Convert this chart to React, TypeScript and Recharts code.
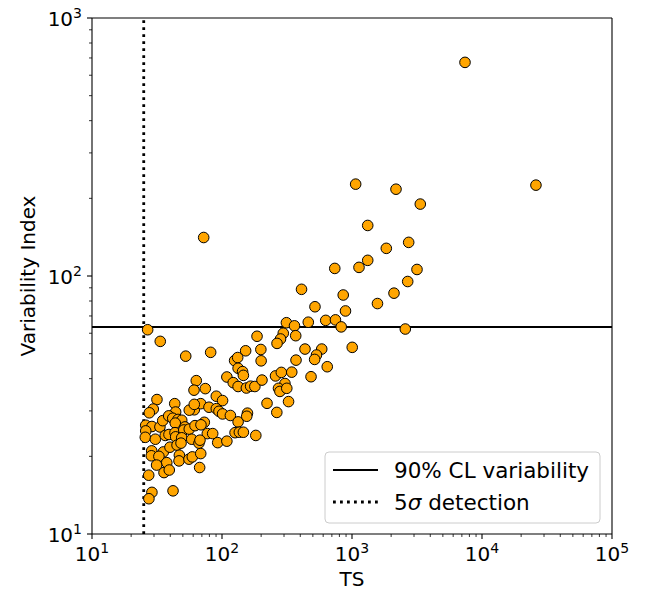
import { ScatterChart, Scatter, XAxis, YAxis, ReferenceLine } from "recharts";

// TS of each source
const ts = [
  26.8, 33.5, 52.6, 31.6, 29.6, 27.6, 43.3, 44.0, 61.2, 25.9,
  28.9, 33.3, 25.9, 35.0, 38.9, 41.8, 45.9, 49.0, 43.7, 51.9,
  25.7, 30.7, 36.6, 39.1, 43.5, 44.0, 50.8, 56.0, 62.0, 49.0,
  58.5, 66.5, 28.8, 35.4, 39.8, 45.1, 48.4, 28.6, 32.7, 37.6,
  47.0, 46.7, 55.7, 59.1, 31.4, 35.8, 39.3, 27.3, 28.9, 27.4,
  42.0, 63.4, 60.9, 68.6, 79.4, 56.0, 61.2, 73.1, 77.1, 84.8,
  67.7, 68.9, 67.3, 68.6, 72.3, 81.8, 74.4, 90.4, 101, 90.4,
  94.8, 101, 116, 133, 157, 155, 126, 136, 146, 182,
  92.7, 109, 152, 186, 199, 296, 313, 282, 265, 125,
  132, 133, 144, 146, 200, 109, 122, 133, 154, 166,
  179, 203, 258, 286, 305, 272, 279, 315, 222, 325,
  264, 344, 361, 461, 369, 435, 585, 533, 516, 371,
  484, 645, 409, 519, 891, 628, 746, 826, 1004, 737,
  1132, 856, 1570, 2104, 2682, 3162, 2570, 1321, 1836, 2729,
  1321, 1067, 2180, 3352, 7400, 26000,
];

// variability index of each source (same order)
const variability = [
  61.9, 55.8, 48.9, 33.2, 30.5, 29.5, 32.0, 29.7, 30.3, 26.4,
  26.1, 26.0, 25.1, 27.5, 28.7, 28.1, 27.8, 27.6, 26.9, 26.0,
  23.7, 23.3, 24.1, 24.3, 24.7, 23.8, 25.3, 25.5, 26.3, 23.6,
  23.3, 22.5, 21.0, 20.8, 21.7, 22.1, 22.5, 20.1, 20.0, 18.9,
  20.2, 19.2, 19.5, 19.9, 18.5, 17.3, 17.7, 16.9, 14.5, 13.7,
  14.7, 39.3, 36.1, 32.0, 31.0, 30.2, 31.8, 27.1, 24.5, 24.5,
  23.1, 26.5, 18.1, 20.5, 141, 50.6, 36.6, 34.2, 32.9, 30.6,
  29.9, 29.2, 28.8, 27.2, 29.4, 28.6, 24.7, 24.8, 24.8, 24.1,
  22.6, 22.9, 51.3, 58.4, 51.9, 60.0, 65.9, 57.0, 54.8, 47.0,
  48.3, 43.9, 42.6, 41.2, 46.9, 40.6, 38.6, 37.3, 36.8, 37.4,
  37.3, 39.5, 41.0, 42.3, 38.3, 36.7, 35.7, 36.7, 32.1, 32.6,
  29.6, 42.4, 64.1, 66.2, 58.7, 52.1, 52.1, 49.4, 47.5, 47.2,
  40.7, 44.5, 88.8, 76.0, 73.2, 67.3, 67.6, 63.5, 52.9, 107,
  108, 84.4, 78.2, 85.8, 95.2, 106, 62.3, 115, 128, 135,
  157, 227, 217, 190, 673, 225,
];

const variabilityThreshold = 63.4; // 90% CL
const detectionTS = 25; // 5 sigma

const xMajor = [10, 100, 1000, 10000, 100000];
const yMajor = [10, 100, 1000];

const minorOf = (majors: number[]) => {
  const out: number[] = [];
  majors.slice(0, -1).forEach((m) => {
    for (let k = 2; k <= 9; k++) out.push(m * k);
  });
  return out;
};

const xTicks = [...xMajor, ...minorOf(xMajor)].sort((a, b) => a - b);
const yTicks = [...yMajor, ...minorOf(yMajor)].sort((a, b) => a - b);

const data = ts.map((t, i) => ({ ts: t, vi: variability[i] }));

const FONT = "DejaVu Sans";
const DOTTED = "2.8 4.2";

const XTick = (props: any) => {
  const { x, y, payload } = props;
  const major = xMajor.includes(payload.value);
  return (
    <g>
      <line x1={x} x2={x} y1={y} y2={y + (major ? 5 : 3)} stroke="#000" strokeWidth={major ? 1.1 : 0.8} />
      {major && (
        <text x={x} y={y + 27} textAnchor="middle" fontSize={20} fontFamily={FONT} fill="#000">
          10<tspan dy={-8} fontSize={14}>{Math.round(Math.log10(payload.value))}</tspan>
        </text>
      )}
    </g>
  );
};

const YTick = (props: any) => {
  const { x, y, payload } = props;
  const major = yMajor.includes(payload.value);
  return (
    <g>
      <line x1={x} x2={x - (major ? 5 : 3)} y1={y} y2={y} stroke="#000" strokeWidth={major ? 1.1 : 0.8} />
      {major && (
        <text x={x - 10} y={y + 8} textAnchor="end" fontSize={20} fontFamily={FONT} fill="#000">
          10<tspan dy={-8} fontSize={14}>{Math.round(Math.log10(payload.value))}</tspan>
        </text>
      )}
    </g>
  );
};

const Dot = (props: any) => (
  <circle cx={props.cx} cy={props.cy} r={5.3} fill="#FFA500" stroke="#000" strokeWidth={1} />
);

export default function App() {
  return (
    <div style={{ position: "absolute", left: 0, top: 0, width: 654, height: 594, background: "#fff" }}>
      <ScatterChart width={654} height={594} margin={{ top: 18, right: 42, bottom: 30, left: 32 }}>
        <XAxis
          type="number"
          dataKey="ts"
          scale="log"
          domain={[10, 100000]}
          ticks={xTicks}
          interval={0}
          allowDataOverflow
          height={30}
          tickSize={0}
          tickMargin={0}
          tickLine={false}
          tick={<XTick />}
          axisLine={{ stroke: "#000", strokeWidth: 1.1 }}
        />
        <YAxis
          type="number"
          dataKey="vi"
          scale="log"
          domain={[10, 1000]}
          ticks={yTicks}
          interval={0}
          allowDataOverflow
          width={60}
          tickSize={0}
          tickMargin={0}
          tickLine={false}
          tick={<YTick />}
          axisLine={{ stroke: "#000", strokeWidth: 1.1 }}
        />
        <ReferenceLine y={1000} stroke="#000" strokeWidth={1.1} />
        <ReferenceLine x={100000} stroke="#000" strokeWidth={1.1} />
        <ReferenceLine y={variabilityThreshold} stroke="#000" strokeWidth={2} />
        <ReferenceLine x={detectionTS} stroke="#000" strokeWidth={2.8} strokeDasharray={DOTTED} />
        <Scatter data={data} shape={<Dot />} isAnimationActive={false} />
      </ScatterChart>

      {/* axis titles and legend */}
      <svg width={654} height={594} style={{ position: "absolute", left: 0, top: 0, pointerEvents: "none" }}>
        <text x={352} y={586} textAnchor="middle" fontSize={20} fontFamily={FONT} fill="#000">TS</text>
        <text
          transform="translate(35,276) rotate(-90)"
          textAnchor="middle"
          fontSize={20}
          fontFamily={FONT}
          fill="#000"
        >
          Variability Index
        </text>

        <rect x={325} y={452} width={275} height={71} rx={4} fill="rgba(255,255,255,0.8)" stroke="#cccccc" strokeWidth={1} />
        <line x1={333} x2={378} y1={470} y2={470} stroke="#000" strokeWidth={2} />
        <text x={394} y={477.5} fontSize={21.5} fontFamily={FONT} fill="#000">90% CL variability</text>
        <line x1={333} x2={378} y1={502} y2={502} stroke="#000" strokeWidth={2.8} strokeDasharray={DOTTED} />
        <text x={394} y={509.5} fontSize={21.5} fontFamily={FONT} fill="#000">
          5<tspan fontStyle="italic">σ</tspan> detection
        </text>
      </svg>
    </div>
  );
}
